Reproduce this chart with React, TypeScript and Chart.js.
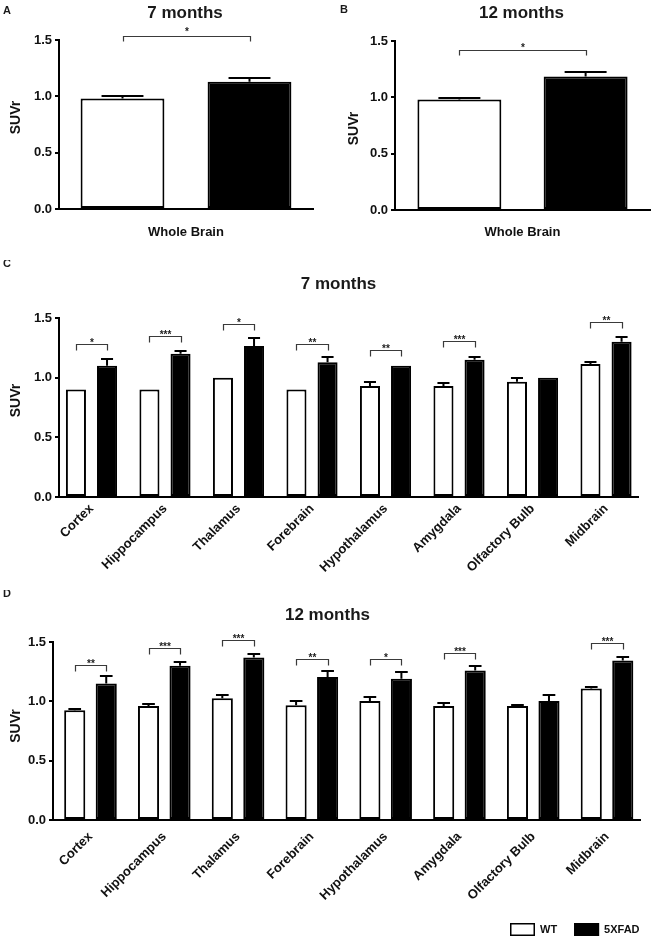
import React, { useEffect, useRef } from "react";
import { Chart, registerables } from "chart.js";

Chart.register(...registerables);

const FONT = "'Liberation Sans', Arial, Helvetica, sans-serif";

// ---------- data ----------
const seriesLabels = ["WT", "5XFAD"];
const wholeBrain = ["Whole Brain"];
const regions = [
  "Cortex",
  "Hippocampus",
  "Thalamus",
  "Forebrain",
  "Hypothalamus",
  "Amygdala",
  "Olfactory Bulb",
  "Midbrain",
];
const yTickValues = [0, 0.5, 1.0, 1.5];
const panelTitles = ["7 months", "12 months", "7 months", "12 months"];
const panelLetters = ["A", "B", "C", "D"];
const yAxisLabel = "SUVr";

// A: whole brain, 7 months
const wb7WT = [0.98];
const wb7WTSem = [0.02];
const wb7Tg = [1.13];
const wb7TgSem = [0.035];
const wb7SigY = [1.535];
const wb7Sig = ["*"];

// B: whole brain, 12 months
const wb12WT = [0.98];
const wb12WTSem = [0.01];
const wb12Tg = [1.185];
const wb12TgSem = [0.04];
const wb12SigY = [1.42];
const wb12Sig = ["*"];

// C: regions, 7 months
const r7WT = [0.9, 0.9, 1.0, 0.9, 0.93, 0.93, 0.965, 1.115];
const r7WTSem = [0, 0, 0, 0, 0.035, 0.025, 0.035, 0.02];
const r7Tg = [1.1, 1.2, 1.265, 1.13, 1.1, 1.15, 1.0, 1.3];
const r7TgSem = [0.06, 0.025, 0.065, 0.04, 0, 0.02, 0, 0.04];
const r7SigY = [1.28, 1.35, 1.45, 1.285, 1.235, 1.305, null, 1.465];
const r7Sig = ["*", "***", "*", "**", "**", "***", "", "**"];

// D: regions, 12 months
const r12WT = [0.925, 0.96, 1.025, 0.967, 1.003, 0.96, 0.96, 1.108];
const r12WTSem = [0.012, 0.02, 0.028, 0.033, 0.037, 0.022, 0.013, 0.013];
const r12Tg = [1.15, 1.3, 1.37, 1.205, 1.19, 1.26, 1.003, 1.345];
const r12TgSem = [0.06, 0.033, 0.03, 0.05, 0.057, 0.04, 0.047, 0.028];
const r12SigY = [1.31, 1.45, 1.52, 1.36, 1.36, 1.41, null, 1.49];
const r12Sig = ["**", "***", "***", "**", "*", "***", "", "***"];

// ---------- layout specs ----------
type Spec = {
  left: number;
  top: number;
  width: number;
  height: number;
  labels: string[];
  wt: number[];
  wtErr: number[];
  tg: number[];
  tgErr: number[];
  sigY: (number | null)[];
  sig: string[];
  title: string;
  titleDx: number;
  titleY: number;
  letter: string;
  letterX: number;
  letterY: number;
  pad: { left: number; right: number; top: number; bottom: number };
  yWidth: number;
  xHeight: number;
  xRange: [number, number] | null;
  rotation: number;
  xTickPad: number;
  catPct: number;
  barPct: number;
  capRatio: number;
  bracketTick: number;
  starLift: number;
  ylabelX: number;
  ylabelDy: number;
  legend: boolean;
};

const specs: Spec[] = [
  {
    left: 0, top: 0, width: 327, height: 260,
    labels: wholeBrain, wt: wb7WT, wtErr: wb7WTSem, tg: wb7Tg, tgErr: wb7TgSem,
    sigY: wb7SigY, sig: wb7Sig,
    title: panelTitles[0], titleDx: -1, titleY: 13,
    letter: panelLetters[0], letterX: 3, letterY: 11,
    pad: { left: 0, right: 14, top: 40, bottom: 0 },
    yWidth: 59, xHeight: 51, xRange: null, rotation: 0, xTickPad: 16,
    catPct: 1.0, barPct: 0.66, capRatio: 0.5, bracketTick: 5, starLift: 4,
    ylabelX: 16, ylabelDy: -7, legend: false,
  },
  {
    left: 327, top: 0, width: 327, height: 260,
    labels: wholeBrain, wt: wb12WT, wtErr: wb12WTSem, tg: wb12Tg, tgErr: wb12TgSem,
    sigY: wb12SigY, sig: wb12Sig,
    title: panelTitles[1], titleDx: -1, titleY: 13,
    letter: panelLetters[1], letterX: 13, letterY: 10,
    pad: { left: 0, right: 4, top: 41, bottom: 0 },
    yWidth: 68, xHeight: 50, xRange: null, rotation: 0, xTickPad: 15,
    catPct: 0.99, barPct: 0.665, capRatio: 0.5, bracketTick: 5, starLift: 2,
    ylabelX: 27, ylabelDy: 3, legend: false,
  },
  {
    left: 0, top: 260, width: 654, height: 330,
    labels: regions, wt: r7WT, wtErr: r7WTSem, tg: r7Tg, tgErr: r7TgSem,
    sigY: r7SigY, sig: r7Sig,
    title: panelTitles[2], titleDx: -10, titleY: 24,
    letter: panelLetters[2], letterX: 3, letterY: 4,
    pad: { left: 0, right: 16, top: 58, bottom: 0 },
    yWidth: 59, xHeight: 93, xRange: [-0.442, 7.435], rotation: 45, xTickPad: 4,
    catPct: 0.846, barPct: 0.645, capRatio: 0.6, bracketTick: 6, starLift: 1,
    ylabelX: 16, ylabelDy: -7, legend: false,
  },
  {
    left: 0, top: 590, width: 654, height: 351,
    labels: regions, wt: r12WT, wtErr: r12WTSem, tg: r12Tg, tgErr: r12TgSem,
    sigY: r12SigY, sig: r12Sig,
    title: panelTitles[3], titleDx: -19, titleY: 25,
    letter: panelLetters[3], letterX: 3, letterY: 4,
    pad: { left: 0, right: 14, top: 52, bottom: 0 },
    yWidth: 53, xHeight: 121, xRange: [-0.508, 7.447], rotation: 45, xTickPad: 9,
    catPct: 0.854, barPct: 0.67, capRatio: 0.6, bracketTick: 6, starLift: 1,
    ylabelX: 16, ylabelDy: -5, legend: true,
  },
];

function makeDecor(spec: Spec) {
  return {
    id: "decor",
    afterDatasetsDraw(chart: any) {
      const ctx = chart.ctx as CanvasRenderingContext2D;
      const ys = chart.scales.y;
      const errs = [spec.wtErr, spec.tgErr];
      chart.data.datasets.forEach((_ds: any, di: number) => {
        const meta = chart.getDatasetMeta(di);
        const vals = di === 0 ? spec.wt : spec.tg;
        meta.data.forEach((el: any, i: number) => {
          const e = errs[di][i];
          if (!e) return;
          const yt = Math.round(ys.getPixelForValue(vals[i] + e));
          const cap = el.width * spec.capRatio;
          ctx.save();
          ctx.strokeStyle = "#000";
          ctx.lineWidth = 2;
          ctx.beginPath();
          ctx.moveTo(el.x, el.y);
          ctx.lineTo(el.x, yt);
          ctx.moveTo(el.x - cap / 2, yt);
          ctx.lineTo(el.x + cap / 2, yt);
          ctx.stroke();
          ctx.restore();
        });
      });
    },
    afterDraw(chart: any) {
      const ctx = chart.ctx as CanvasRenderingContext2D;
      const ys = chart.scales.y;
      const area = chart.chartArea;
      const m0 = chart.getDatasetMeta(0);
      const m1 = chart.getDatasetMeta(1);
      ctx.save();
      // significance brackets
      spec.sigY.forEach((sv, i) => {
        if (sv == null) return;
        const y = Math.round(ys.getPixelForValue(sv)) + 0.5;
        const x1 = Math.round(m0.data[i].x) + 0.5;
        const x2 = Math.round(m1.data[i].x) + 0.5;
        ctx.strokeStyle = "#3a3a3a";
        ctx.lineWidth = 1.2;
        ctx.beginPath();
        ctx.moveTo(x1, y + spec.bracketTick);
        ctx.lineTo(x1, y);
        ctx.lineTo(x2, y);
        ctx.lineTo(x2, y + spec.bracketTick);
        ctx.stroke();
        ctx.fillStyle = "#222";
        ctx.font = `bold 10px ${FONT}`;
        ctx.textAlign = "center";
        ctx.textBaseline = "alphabetic";
        ctx.fillText(spec.sig[i], (x1 + x2) / 2, y + 2 - spec.starLift);
      });
      // panel title
      ctx.fillStyle = "#1a1a1a";
      ctx.font = `bold 17px ${FONT}`;
      ctx.textAlign = "center";
      ctx.textBaseline = "middle";
      ctx.fillText(spec.title, (area.left + area.right) / 2 + spec.titleDx, spec.titleY);
      // panel letter
      ctx.font = `bold 11px ${FONT}`;
      ctx.textAlign = "left";
      ctx.fillText(spec.letter, spec.letterX, spec.letterY);
      // y axis title
      ctx.save();
      ctx.translate(spec.ylabelX, (area.top + area.bottom) / 2 + spec.ylabelDy);
      ctx.rotate(-Math.PI / 2);
      ctx.font = `bold 14px ${FONT}`;
      ctx.fillStyle = "#111";
      ctx.textAlign = "center";
      ctx.textBaseline = "middle";
      ctx.fillText(yAxisLabel, 0, 0);
      ctx.restore();
      // legend
      if (spec.legend) {
        let x = area.right - 130;
        const by = 333;
        ctx.font = `bold 11px ${FONT}`;
        ctx.textAlign = "left";
        ctx.textBaseline = "middle";
        chart.data.datasets.forEach((ds: any) => {
          ctx.fillStyle = ds.backgroundColor;
          ctx.fillRect(x, by, 25, 13);
          ctx.strokeStyle = "#000";
          ctx.lineWidth = 1.5;
          ctx.strokeRect(x + 0.75, by + 0.75, 23.5, 11.5);
          ctx.fillStyle = "#111";
          ctx.fillText(ds.label, x + 30, by + 7);
          x += 30 + ctx.measureText(ds.label).width + 17;
        });
      }
      ctx.restore();
    },
  };
}

function buildConfig(spec: Spec): any {
  const tickFont = { family: FONT, size: 13, weight: "bold" as const };
  const linear = spec.xRange != null;
  const toData = (vals: number[]) => (linear ? vals.map((v, i) => ({ x: i, y: v })) : vals);
  const xScale: any = linear
    ? {
        type: "linear",
        offset: false,
        min: spec.xRange![0],
        max: spec.xRange![1],
        afterBuildTicks: (s: any) => {
          s.ticks = spec.labels.map((_l, i) => ({ value: i }));
        },
      }
    : { type: "category", offset: true };
  return {
    type: "bar",
    data: {
      labels: linear ? undefined : spec.labels,
      datasets: [
        {
          label: seriesLabels[0],
          data: toData(spec.wt),
          backgroundColor: "#ffffff",
          borderColor: "#000000",
          borderWidth: 2,
          borderSkipped: false,
          categoryPercentage: spec.catPct,
          barPercentage: spec.barPct,
        },
        {
          label: seriesLabels[1],
          data: toData(spec.tg),
          backgroundColor: "#000000",
          borderColor: "#000000",
          borderWidth: 2,
          borderSkipped: false,
          categoryPercentage: spec.catPct,
          barPercentage: spec.barPct,
        },
      ],
    },
    options: {
      responsive: false,
      animation: false,
      events: [],
      layout: { padding: spec.pad },
      plugins: {
        legend: { display: false },
        tooltip: { enabled: false },
        title: { display: false },
      },
      scales: {
        x: {
          ...xScale,
          grid: { display: false, drawTicks: false },
          border: { display: true, color: "#000", width: 2 },
          ticks: {
            color: "#111",
            font: tickFont,
            padding: spec.xTickPad,
            minRotation: spec.rotation,
            maxRotation: spec.rotation,
            autoSkip: false,
            callback: linear
              ? (v: any) => spec.labels[Math.round(Number(v))] ?? ""
              : function (this: any, v: any) {
                  return this.getLabelForValue(v);
                },
          },
          afterFit: (s: any) => {
            s.height = spec.xHeight;
          },
        },
        y: {
          min: 0,
          max: 1.5,
          afterBuildTicks: (s: any) => {
            s.ticks = yTickValues.map((v) => ({ value: v }));
          },
          ticks: {
            color: "#111",
            font: tickFont,
            padding: 3,
            callback: (v: any) => Number(v).toFixed(1),
          },
          grid: {
            display: true,
            drawOnChartArea: false,
            drawTicks: true,
            tickLength: 4,
            color: "#000",
            lineWidth: 2,
          },
          border: { display: true, color: "#000", width: 2 },
          afterFit: (s: any) => {
            s.width = spec.yWidth;
          },
        },
      },
    },
    plugins: [makeDecor(spec)],
  };
}

function Panel({ spec }: { spec: Spec }) {
  const ref = useRef<HTMLCanvasElement | null>(null);
  useEffect(() => {
    if (!ref.current) return;
    const chart = new Chart(ref.current, buildConfig(spec));
    return () => chart.destroy();
  }, [spec]);
  return (
    <canvas
      ref={ref}
      width={spec.width}
      height={spec.height}
      style={{ position: "absolute", left: spec.left, top: spec.top, width: spec.width, height: spec.height }}
    />
  );
}

export default function App() {
  return (
    <div
      style={{
        position: "fixed",
        left: 0,
        top: 0,
        width: 654,
        height: 941,
        background: "#ffffff",
        overflow: "hidden",
      }}
    >
      {specs.map((s, i) => (
        <Panel key={i} spec={s} />
      ))}
    </div>
  );
}
